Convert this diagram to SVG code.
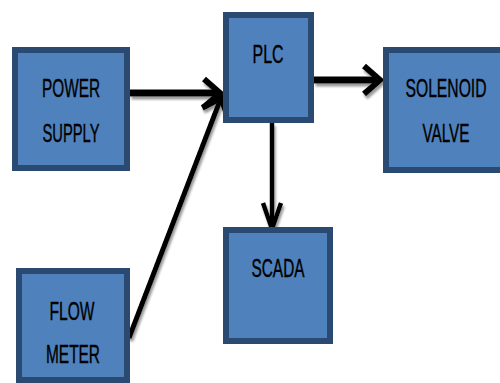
<svg xmlns="http://www.w3.org/2000/svg" width="500" height="383" viewBox="0 0 500 383">
<defs>
<style>
.box{fill:#4f81bd;stroke:#2b4a72;stroke-width:6}
.lbl{font-family:"Liberation Sans",Arial,sans-serif;font-size:25px;fill:#000;stroke:#000;stroke-width:0.4;text-anchor:middle}
.ln{stroke:#000;fill:none;stroke-linecap:butt}
</style>
<filter id="sh" x="-20%" y="-20%" width="140%" height="140%">
<feDropShadow dx="1.5" dy="3" stdDeviation="1" flood-color="#808080" flood-opacity="0.8"/>
</filter>
<marker id="ah" markerUnits="userSpaceOnUse" viewBox="-20 -18 24 36" refX="0" refY="0" markerWidth="24" markerHeight="36" orient="auto" overflow="visible">
<path d="M-16,-14 L0,0 L-16,14" fill="none" stroke="#000" stroke-width="6" stroke-linejoin="miter"/>
</marker>
<marker id="ahs" markerUnits="userSpaceOnUse" viewBox="-20 -18 24 36" refX="0" refY="0" markerWidth="24" markerHeight="36" orient="auto" overflow="visible">
<path d="M-26,-9 L0,0 L-26,9" fill="none" stroke="#000" stroke-width="4.5" stroke-linejoin="miter"/>
</marker>
</defs>
<rect width="500" height="383" fill="#fff"/>
<g id="connectors" filter="url(#sh)">
<line class="ln" x1="130" y1="93" x2="220" y2="93" stroke-width="7" marker-end="url(#ah)"/>
<line class="ln" x1="129" y1="338" x2="221" y2="98" stroke-width="5" marker-end="url(#ah)"/>
<line class="ln" x1="314" y1="80" x2="380" y2="80" stroke-width="7" marker-end="url(#ah)"/>
<line class="ln" x1="272" y1="123" x2="272" y2="229" stroke-width="4.5" marker-end="url(#ahs)"/>
</g>
<g id="power-supply">
<rect class="box" x="15" y="50" width="112" height="118"/>
<text class="lbl" x="71" y="97" textLength="58" lengthAdjust="spacingAndGlyphs">POWER</text>
<text class="lbl" x="71" y="142" textLength="57" lengthAdjust="spacingAndGlyphs">SUPPLY</text>
</g>
<g id="plc">
<rect class="box" x="226" y="15" width="85" height="105"/>
<text class="lbl" x="268" y="63" textLength="31" lengthAdjust="spacingAndGlyphs">PLC</text>
</g>
<g id="solenoid-valve">
<rect class="box" x="386" y="50" width="120" height="120"/>
<text class="lbl" x="446" y="97" textLength="81" lengthAdjust="spacingAndGlyphs">SOLENOID</text>
<text class="lbl" x="446" y="142" textLength="47" lengthAdjust="spacingAndGlyphs">VALVE</text>
</g>
<g id="scada">
<rect class="box" x="226" y="230" width="104" height="111"/>
<text class="lbl" x="278" y="277" textLength="53" lengthAdjust="spacingAndGlyphs">SCADA</text>
</g>
<g id="flow-meter">
<rect class="box" x="19" y="271" width="108" height="109"/>
<text class="lbl" x="72" y="320" textLength="45" lengthAdjust="spacingAndGlyphs">FLOW</text>
<text class="lbl" x="73" y="363" textLength="54" lengthAdjust="spacingAndGlyphs">METER</text>
</g>
</svg>
